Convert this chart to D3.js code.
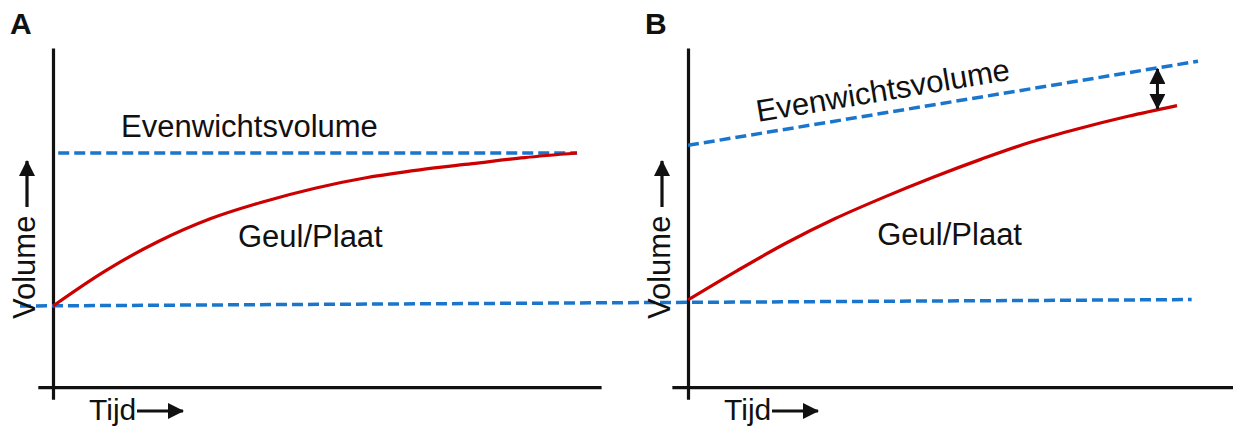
<!DOCTYPE html>
<html>
<head>
<meta charset="utf-8">
<script src="https://cdn.jsdelivr.net/npm/d3@7"></script>
<style>
  html, body { margin: 0; padding: 0; background: #fff; }
  svg { display: block; }
  text { font-family: "Liberation Sans", Arial, sans-serif; fill: #111; }
</style>
</head>
<body>
<svg id="chart" width="1233" height="428"></svg>
<script>
// ---- data (schematic) ----
const panels = ["A", "B"];
const time = [0, 1, 2, 3, 4, 5, 6, 7, 8, 9, 10];
const volumeA = [0, 23, 42, 57, 68, 77, 84, 89, 93, 97, 100];      // Geul/Plaat, panel A
const volumeB = [4, 23, 41, 57, 71, 84, 96, 107, 116, 124, 131];   // Geul/Plaat, panel B
const equilibriumA = [{t: 0.1, v: 100}, {t: 10, v: 100}];          // Evenwichtsvolume A (constant)
const equilibriumB = [{t: 0, v: 105}, {t: 10.43, v: 160}];         // Evenwichtsvolume B (rising)
const baselineStart = {panel: "A", t: -0.63, v: 0};                // initial volume line
const baselineEnd = {panel: "B", t: 10.3, v: 4.2};
const gapTime = 9.6;                                               // double arrow in B
const labels = {title: panels, eq: "Evenwichtsvolume", geul: "Geul/Plaat", y: "Volume", x: "Tijd"};

// ---- scales ----
const yV = d3.scaleLinear().domain([0, 100]).range([306, 153]);
const xS = {
  A: d3.scaleLinear().domain([0, 10]).range([53, 577]),
  B: d3.scaleLinear().domain([0, 10]).range([688, 1177])
};
const axisExt = {
  A: {t: [-0.29, 10.46]},
  B: {t: [-0.33, 11.4]}
};
const vAxisExt = [-61, 168.6];
const vXAxis = -53;

const BLUE = "#1a76cc";
const RED = "#cc0000";
const DASH = "11,5";

const svg = d3.select("#chart");
const defs = svg.append("defs");
function marker(id, orient) {
  defs.append("marker")
    .attr("id", id).attr("markerUnits", "userSpaceOnUse")
    .attr("viewBox", "0 0 16 16").attr("refX", 15).attr("refY", 8)
    .attr("markerWidth", 16).attr("markerHeight", 16)
    .attr("orient", orient)
    .append("path").attr("d", "M0,0 L16,8 L0,16 Z").attr("fill", "#111");
}
marker("ah", "auto");
marker("ah2", "auto-start-reverse");

// ---- axes (plain lines via d3 axes with no ticks) ----
panels.forEach(p => {
  const xs = xS[p];
  const ext = axisExt[p].t;
  const xAxisScale = d3.scaleLinear().domain(ext).range([xs(ext[0]), xs(ext[1])]);
  svg.append("g")
    .attr("transform", `translate(0,${yV(vXAxis)})`)
    .call(d3.axisBottom(xAxisScale).tickValues([]).tickSizeOuter(0))
    .call(g => g.select(".domain").attr("stroke", "#111").attr("stroke-width", 3.2));
  const yAxisScale = d3.scaleLinear().domain(vAxisExt).range([yV(vAxisExt[0]), yV(vAxisExt[1])]);
  svg.append("g")
    .attr("transform", `translate(${xs(0)},0)`)
    .call(d3.axisLeft(yAxisScale).tickValues([]).tickSizeOuter(0))
    .call(g => g.select(".domain").attr("stroke", "#111").attr("stroke-width", 3.2));
});

// ---- baseline dashed line spanning both panels ----
svg.append("line")
  .attr("x1", xS[baselineStart.panel](baselineStart.t)).attr("y1", yV(baselineStart.v))
  .attr("x2", xS[baselineEnd.panel](baselineEnd.t)).attr("y2", yV(baselineEnd.v))
  .attr("stroke", BLUE).attr("stroke-width", 3.5).attr("stroke-dasharray", DASH);

// ---- equilibrium lines ----
const eqLine = xs => d3.line().x(d => xs(d.t)).y(d => yV(d.v));
svg.append("path").attr("d", eqLine(xS.A)(equilibriumA))
  .attr("fill", "none").attr("stroke", BLUE).attr("stroke-width", 3.5).attr("stroke-dasharray", DASH);
svg.append("path").attr("d", eqLine(xS.B)(equilibriumB))
  .attr("fill", "none").attr("stroke", BLUE).attr("stroke-width", 3.5).attr("stroke-dasharray", DASH);

// ---- Geul/Plaat curves ----
const curveLine = xs => d3.line().x((d, i) => xs(time[i])).y(d => yV(d)).curve(d3.curveCatmullRom.alpha(0.5));
svg.append("path").attr("d", curveLine(xS.A)(volumeA))
  .attr("fill", "none").attr("stroke", RED).attr("stroke-width", 3.2);
svg.append("path").attr("d", curveLine(xS.B)(volumeB))
  .attr("fill", "none").attr("stroke", RED).attr("stroke-width", 3.2);

// ---- double arrow between equilibrium and curve in B ----
const eqB = d3.scaleLinear().domain(equilibriumB.map(d => d.t)).range(equilibriumB.map(d => d.v));
const curB = d3.scaleLinear().domain(time).range(volumeB);
svg.append("line")
  .attr("x1", xS.B(gapTime)).attr("y1", yV(eqB(gapTime)) + 1)
  .attr("x2", xS.B(gapTime)).attr("y2", yV(curB(gapTime)) - 1)
  .attr("stroke", "#111").attr("stroke-width", 3)
  .attr("marker-start", "url(#ah2)").attr("marker-end", "url(#ah)");

// ---- text ----
const FS = 31;
panels.forEach(p => {
  const xs = xS[p];
  // panel letter
  svg.append("text").attr("x", xs(0) - 43).attr("y", 34)
    .attr("font-size", 30).attr("font-weight", "bold").text(p);
  // Volume label with arrow
  const vx = xs(0) - 18;
  svg.append("text").attr("transform", `translate(${vx},${yV(-8.5)}) rotate(-90)`)
    .attr("font-size", FS).text(labels.y);
  svg.append("line")
    .attr("x1", vx - 8).attr("y1", yV(-8.5) - 112)
    .attr("x2", vx - 8).attr("y2", yV(-8.5) - 158)
    .attr("stroke", "#111").attr("stroke-width", 3.2).attr("marker-end", "url(#ah)");
  // Tijd label with arrow
  const ty = 420;
  svg.append("text").attr("x", xs(0) + 36).attr("y", ty).attr("font-size", 30).text(labels.x);
  svg.append("line")
    .attr("x1", xs(0) + 84).attr("y1", ty - 9)
    .attr("x2", xs(0) + 130).attr("y2", ty - 9)
    .attr("stroke", "#111").attr("stroke-width", 3.2).attr("marker-end", "url(#ah)");
});

// Evenwichtsvolume labels
svg.append("text").attr("x", xS.A(1.3)).attr("y", yV(100) - 16)
  .attr("font-size", FS).text(labels.eq);
svg.append("text").attr("transform", `translate(${xS.B(1.43)},122) rotate(-9.5)`)
  .attr("font-size", FS).text(labels.eq);

// Geul/Plaat labels
svg.append("text").attr("x", xS.A(3.53)).attr("y", yV(38.5))
  .attr("font-size", FS).text(labels.geul);
svg.append("text").attr("x", xS.B(3.87)).attr("y", yV(40))
  .attr("font-size", FS).text(labels.geul);
</script>
</body>
</html>
